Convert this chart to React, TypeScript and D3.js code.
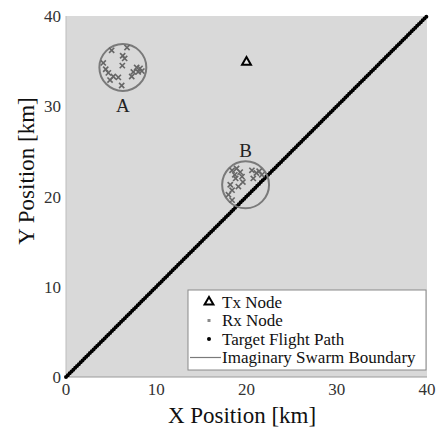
import React from "react";
import * as d3 from "d3";

const xTicks = [0, 10, 20, 30, 40];
const yTicks = [0, 10, 20, 30, 40];
const txNode: [number, number] = [20, 35];
const swarmCenters: [number, number, string][] = [
  [6.3, 34.3, "A"],
  [19.9, 21.3, "B"],
];
const swarmRadius = 2.6;
const rxNodesA: [number, number][] = [
  [5.06, 36.2], [6.76, 36.5], [6.28, 35.6], [6.5, 35.3], [4.13, 34.8], [6.24, 34.5],
  [7.83, 34.3], [8.2, 34.2], [7.46, 33.8], [8.0, 33.8], [8.4, 33.9], [4.69, 33.7],
  [5.24, 33.3], [5.8, 33.2], [4.88, 32.9], [6.17, 32.3], [7.28, 33.3], [4.4, 34.1],
];
const rxNodesB: [number, number][] = [
  [18.4, 22.9], [18.9, 23.1], [19.3, 22.7], [18.7, 22.4], [19.5, 22.2], [20.6, 22.9],
  [21.1, 22.6], [21.7, 22.4], [20.75, 22.0], [18.2, 21.3], [18.4, 20.7], [18.0, 20.2],
  [18.4, 19.6], [19.6, 21.6], [19.1, 21.1], [18.8, 22.0], [21.4, 22.8],
];
const flightPath: [number, number][] = [
  [0, 0],
  [40, 40],
];
const legendLabels = ["Tx Node", "Rx Node", "Target Flight Path", "Imaginary Swarm Boundary"];

const W = 436;
const H = 432;
const FONT = "Liberation Serif";

export default function App() {
  const x = d3.scaleLinear().domain([0, 40]).range([66, 427]);
  const y = d3.scaleLinear().domain([0, 40]).range([377, 16]);
  const rPx = x(swarmRadius) - x(0);
  const line = d3
    .line<[number, number]>()
    .x((d) => x(d[0]))
    .y((d) => y(d[1]));
  const tri = d3.symbol().type(d3.symbolTriangle).size(34)();
  const rxColor = "#666";
  const cross = (cx: number, cy: number, s: number, key: string) => (
    <g key={key} stroke={rxColor} strokeWidth={1.6}>
      <line x1={cx - s} y1={cy - s} x2={cx + s} y2={cy + s} />
      <line x1={cx - s} y1={cy + s} x2={cx + s} y2={cy - s} />
    </g>
  );
  const lgX = 188;
  const lgY = 290;
  const lgW = 238;
  const lgH = 80;
  const rowY = (i: number) => lgY + 12 + i * 18.5;

  return (
    <svg
      width={W}
      height={H}
      style={{ position: "absolute", left: 0, top: 0, background: "#fff" }}
      fontFamily={FONT}
    >
      <rect x={x(0)} y={y(40)} width={x(40) - x(0)} height={y(0) - y(40)} fill="#d9d9d9" />
      <line x1={x(0)} y1={y(0)} x2={x(40)} y2={y(0)} stroke="#9a9a9a" strokeWidth={1} />
      <line x1={x(0)} y1={y(0)} x2={x(0)} y2={y(40)} stroke="#bdbdbd" strokeWidth={1} />

      {/* flight path */}
      <path
        d={line(flightPath) || ""}
        stroke="#000"
        strokeWidth={4}
        strokeLinecap="round"
        strokeDasharray="0 2.6"
        fill="none"
      />
      <path d={line(flightPath) || ""} stroke="#000" strokeWidth={2} fill="none" />

      {/* swarms */}
      {swarmCenters.map(([cx, cy, lab]) => (
        <g key={lab}>
          <circle cx={x(cx)} cy={y(cy)} r={rPx} fill="none" stroke="#7a7a7a" strokeWidth={2} />
        </g>
      ))}
      {rxNodesA.map((d, i) => cross(x(d[0]), y(d[1]), 2.6, "a" + i))}
      {rxNodesB.map((d, i) => cross(x(d[0]), y(d[1]), 2.6, "b" + i))}
      <text x={x(swarmCenters[0][0])} y={112} fontSize={19} textAnchor="middle" fill="#222">
        {swarmCenters[0][2]}
      </text>
      <text x={x(swarmCenters[1][0])} y={y(swarmCenters[1][1]) - rPx - 4} fontSize={19} textAnchor="middle" fill="#222">
        {swarmCenters[1][2]}
      </text>

      {/* tx node */}
      <path
        d={tri || ""}
        transform={`translate(${x(txNode[0])},${y(txNode[1]) + 1})`}
        fill="#e8e8e8"
        stroke="#000"
        strokeWidth={2}
      />

      {/* ticks */}
      {xTicks.map((t) => (
        <text key={"x" + t} x={x(t)} y={395} fontSize={17} textAnchor="middle" fill="#333">
          {t}
        </text>
      ))}
      {yTicks.map((t) => (
        <text key={"y" + t} x={61} y={y(t) + 6} fontSize={17} textAnchor="end" fill="#333">
          {t}
        </text>
      ))}
      <text x={242} y={423} fontSize={23} textAnchor="middle" fill="#111">
        X Position [km]
      </text>
      <text transform={`translate(34,171) rotate(-90)`} fontSize={23} textAnchor="middle" fill="#111">
        Y Position [km]
      </text>

      {/* legend */}
      <rect x={lgX} y={lgY} width={lgW} height={lgH} fill="#fff" stroke="#8a8a8a" strokeWidth={1} />
      <path d={tri || ""} transform={`translate(209,${rowY(0)})`} fill="#fff" stroke="#000" strokeWidth={2} />
      <rect x={207.5} y={rowY(1) - 1.5} width={3} height={3} fill="#8a8a8a" />
      <circle cx={209} cy={rowY(2)} r={2} fill="#000" />
      <line x1={190} y1={rowY(3)} x2={221} y2={rowY(3)} stroke="#7a7a7a" strokeWidth={1.2} />
      {legendLabels.map((l, i) => (
        <text key={l} x={222} y={rowY(i) + 5.5} fontSize={17} fill="#111">
          {l}
        </text>
      ))}
    </svg>
  );
}
